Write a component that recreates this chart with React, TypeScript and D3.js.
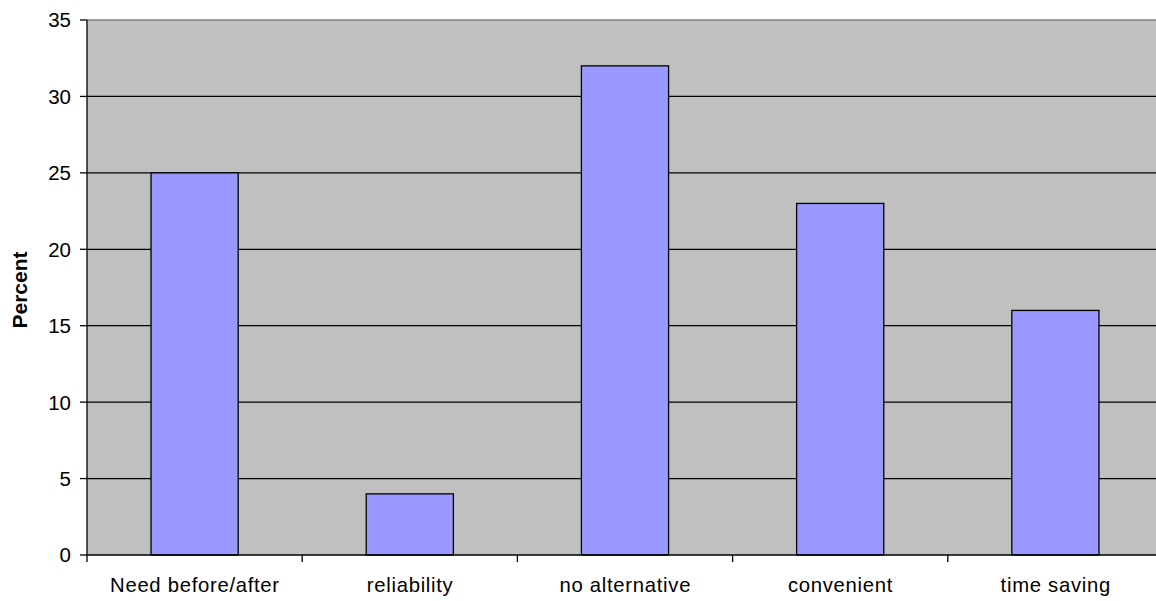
import React from "react";
import * as d3 from "d3";

const categories = ["Need before/after", "reliability", "no alternative", "convenient", "time saving"];
const values = [25, 4, 32, 23, 16];
const yTicks = [0, 5, 10, 15, 20, 25, 30, 35];

const W = 1156, H = 601;
const left = 87, right = 1163, top = 20, bottom = 555;

export default function App() {
  const x = d3.scaleBand<string>().domain(categories).range([left, right]).paddingInner(0).paddingOuter(0);
  const y = d3.scaleLinear().domain([0, 35]).range([bottom, top]);
  const bw = x.bandwidth() * 0.405;
  const font = "'Liberation Sans', Arial, sans-serif";
  return (
    <svg width={W} height={H} style={{ position: "absolute", left: 0, top: 0, display: "block" }}>
      <rect x={0} y={0} width={W} height={H} fill="#ffffff" />
      <rect x={left} y={top} width={right - left} height={bottom - top} fill="#c0c0c0" />
      <line x1={left} x2={right} y1={top} y2={top} stroke="#808080" strokeWidth={1.5} />
      {yTicks.filter(t => t !== 0 && t !== 35).map(t => (
        <line key={t} x1={left} x2={right} y1={y(t)} y2={y(t)} stroke="#000" strokeWidth={1.3} />
      ))}
      {categories.map((c, i) => {
        const cx = (x(c) as number) + x.bandwidth() / 2;
        return (
          <rect key={c} x={cx - bw / 2} y={y(values[i])} width={bw} height={bottom - y(values[i])}
            fill="#9999ff" stroke="#000" strokeWidth={1.3} />
        );
      })}
      <line x1={left} x2={left} y1={top} y2={bottom} stroke="#000" strokeWidth={1.3} />
      <line x1={left} x2={right} y1={bottom} y2={bottom} stroke="#000" strokeWidth={1.3} />
      {yTicks.map(t => (
        <g key={t}>
          <line x1={left - 7} x2={left} y1={y(t)} y2={y(t)} stroke="#000" strokeWidth={1.3} />
          <text x={71} y={y(t)} dy="0.36em" textAnchor="end" fontFamily={font} fontSize={20.5} fill="#000">{t}</text>
        </g>
      ))}
      {categories.map((c, i) => (
        <line key={"t" + i} x1={x(c) as number} x2={x(c) as number} y1={bottom} y2={bottom + 7} stroke="#000" strokeWidth={1.3} />
      ))}
      {categories.map(c => (
        <text key={"l" + c} x={(x(c) as number) + x.bandwidth() / 2 + 0.35} y={592} textAnchor="middle" fontFamily={font} fontSize={20.3} letterSpacing={0.7} fill="#000">{c}</text>
      ))}
      <text transform={`translate(26.5,290) rotate(-90)`} textAnchor="middle" fontFamily={font} fontSize={21} fontWeight="bold" fill="#000">Percent</text>
    </svg>
  );
}
